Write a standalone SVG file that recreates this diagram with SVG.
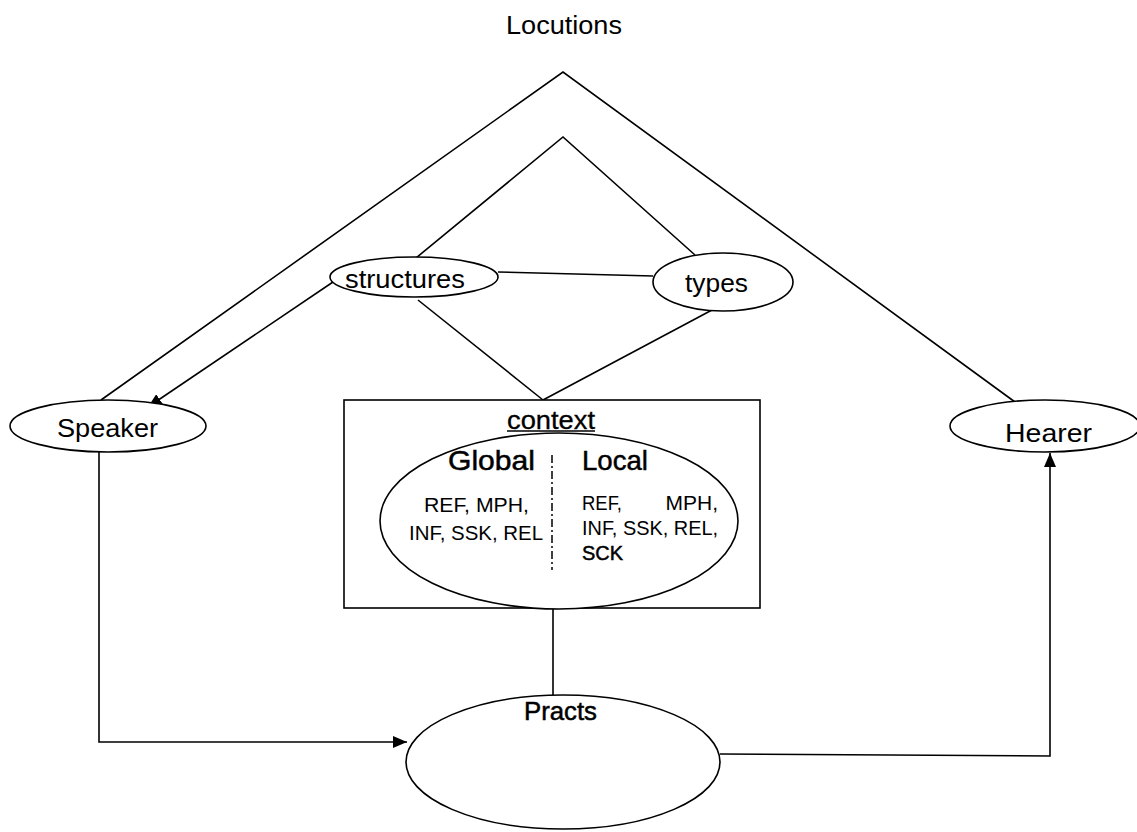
<svg xmlns="http://www.w3.org/2000/svg" width="1137" height="832" viewBox="0 0 1137 832">
<style>
  .shape { fill: #fff; stroke: #000; stroke-width: 1.6; }
  .line { fill: none; stroke: #000; stroke-width: 1.6; }
  text { font-family: "Liberation Sans", Arial, sans-serif; fill: #000; }
  .lbl { font-size: 25px; }
  .med { font-weight: normal; stroke: #000; stroke-width: 0.5; }
  .small { font-size: 21px; }
</style>
<defs>
  <marker id="arrow" viewBox="0 0 14 12" refX="14" refY="6" markerWidth="14" markerHeight="12" markerUnits="userSpaceOnUse" orient="auto">
    <path d="M0,0 L14,6 L0,12 Z" fill="#000"/>
  </marker>
</defs>
<rect width="1137" height="832" fill="#fff"/>

<g id="locutions">
  <text x="506" y="34" class="lbl" textLength="116" lengthAdjust="spacingAndGlyphs">Locutions</text>
</g>

<g id="connectors">
  <polyline class="line" points="101,400 563,72 1015,402"/>
  <polyline class="line" points="405,267 563,137 695,255"/>
  <line class="line" x1="418" y1="300" x2="543" y2="400"/>
  <line class="line" x1="712" y1="310" x2="543" y2="400"/>
  <line class="line" x1="498" y1="272" x2="653" y2="276"/>
  <line class="line" x1="333" y1="282" x2="148" y2="407" marker-end="url(#arrow)"/>
  <line class="line" x1="553" y1="608" x2="553" y2="695"/>
  <polyline class="line" points="99,452 99,742 407,742" marker-end="url(#arrow)"/>
  <polyline class="line" points="720,754 1050,756 1050,453" marker-end="url(#arrow)"/>
</g>

<g id="structures">
  <ellipse class="shape" cx="414" cy="277" rx="84" ry="20"/>
  <text x="345" y="288" class="lbl" textLength="120" lengthAdjust="spacingAndGlyphs">structures</text>
</g>

<g id="types">
  <ellipse class="shape" cx="723" cy="282" rx="70" ry="29"/>
  <text x="685" y="292" class="lbl" textLength="63" lengthAdjust="spacingAndGlyphs">types</text>
</g>

<g id="speaker">
  <ellipse class="shape" cx="108" cy="426" rx="98" ry="26"/>
  <text x="57" y="437" class="lbl" textLength="101" lengthAdjust="spacingAndGlyphs">Speaker</text>
</g>

<g id="hearer">
  <ellipse class="shape" cx="1045" cy="426" rx="95" ry="26"/>
  <text x="1005" y="442" class="lbl" textLength="87" lengthAdjust="spacingAndGlyphs">Hearer</text>
</g>

<g id="context">
  <rect class="shape" x="344" y="400" width="416" height="208"/>
  <text x="507" y="429" class="lbl" stroke="#000" stroke-width="0.3" textLength="88" lengthAdjust="spacingAndGlyphs">context</text>
  <line x1="507" y1="431" x2="595" y2="431" stroke="#000" stroke-width="1.5"/>
  <ellipse class="shape" cx="559" cy="521" rx="179" ry="88"/>
  <line x1="552" y1="455" x2="552" y2="570" stroke="#000" stroke-width="1.5" stroke-dasharray="8 3 2 3"/>
  <text x="448" y="470" font-size="28" class="med" textLength="87" lengthAdjust="spacingAndGlyphs">Global</text>
  <text x="582" y="470" font-size="28" class="med" textLength="66" lengthAdjust="spacingAndGlyphs">Local</text>
  <text x="424" y="512" class="small" textLength="105" lengthAdjust="spacingAndGlyphs">REF, MPH,</text>
  <text x="409" y="540" class="small" textLength="134" lengthAdjust="spacingAndGlyphs">INF, SSK, REL</text>
  <text x="582" y="510" class="small" textLength="40" lengthAdjust="spacingAndGlyphs">REF,</text>
  <text x="718" y="510" class="small" text-anchor="end">MPH,</text>
  <text x="582" y="535" class="small" textLength="136" lengthAdjust="spacingAndGlyphs">INF, SSK, REL,</text>
  <text x="582" y="560" class="small med" textLength="41" lengthAdjust="spacingAndGlyphs">SCK</text>
</g>

<g id="practs">
  <ellipse class="shape" cx="563" cy="762" rx="157" ry="67"/>
  <text x="524" y="720" class="lbl med" textLength="73" lengthAdjust="spacingAndGlyphs">Practs</text>
</g>
</svg>
